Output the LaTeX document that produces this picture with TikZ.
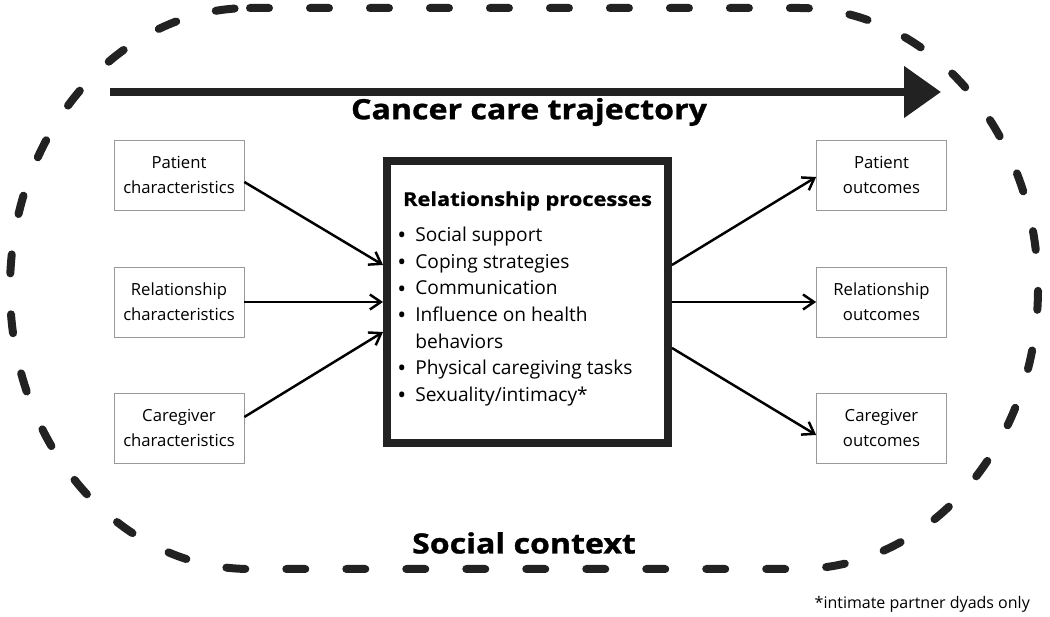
\documentclass[tikz,border=0pt]{standalone}
\usepackage{fontspec}
\setmainfont{Open Sans}
\newfontfamily\heavyfont[FakeStretch=1.15, FakeBold=1]{Open Sans}
\usetikzlibrary{arrows.meta,positioning,calc}
\newcommand{\boxfont}{\fontsize{9.5}{14.2}\selectfont}
\newcommand{\headfont}{\heavyfont\fontsize{15.9}{18}\bfseries\selectfont}
\newcommand{\proctitlefont}{\heavyfont\fontsize{10.8}{14}\bfseries\selectfont}
\newcommand{\listfont}{\fontsize{10.9}{15.1}\selectfont}
\newcommand{\notefont}{\fontsize{9.1}{11}\selectfont}
\newcommand{\itm}{\makebox[0.36cm][l]{\raisebox{-0.2ex}{\fontsize{13.5}{13}\selectfont\textbullet}}}
\definecolor{ink}{HTML}{222222}

\begin{document}
\begin{tikzpicture}[x=0.02cm, y=0.02cm,
    factor/.style={draw=gray!80, line width=0.4pt, minimum width=2.6cm, minimum height=1.4cm, align=center, font=\boxfont, inner sep=0pt},
    link/.style={draw, line width=1.4pt, -{Straight Barb[length=0.22cm, width=0.3cm]}}]
        \useasboundingbox (0,0) rectangle (1050,617);
        %social context loop
        \draw[ink, line width=0.16cm, line cap=round, dash pattern=on 0.38cm off 0.82cm]
            (250,609) -- (798,609) arc[start angle=90, end angle=-90, x radius=240, y radius=280.5]
            -- (250,48) arc[start angle=270, end angle=90, x radius=240, y radius=280.5] -- cycle;
        %trajectory
        \coordinate (trajstart) at (110,525);
        \coordinate (trajend) at (941,525);
        \draw[ink, line width=0.16cm, -{Triangle[length=0.74cm, width=1cm]}] (trajstart) -- (trajend);
        \node[font=\headfont] (traj) at (529,505) {Cancer care trajectory};
        \node[font=\headfont] (ctx) at (524,74) {Social context};
        %nodes
        \node[factor] (pc) at (179,442) {Patient\\characteristics};
        \node[factor] (rc) at (179,315) {Relationship\\characteristics};
        \node[factor] (cc) at (179,189) {Caregiver\\characteristics};
        \node[factor] (po) at (881.5,442) {Patient\\outcomes};
        \node[factor] (ro) at (881.5,315) {Relationship\\outcomes};
        \node[factor] (co) at (881.5,189) {Caregiver\\outcomes};
        \node[draw=ink, line width=0.16cm, minimum width=5.62cm, minimum height=5.64cm] (proc) at (527.5,315) {};
        \node[font=\proctitlefont] (proctitle) at (527.5,416) {Relationship processes};
        \node[font=\listfont, align=left, anchor=north west, inner sep=0pt] (proclist) at (397,390)
            {\itm Social support\\ \itm Coping strategies\\ \itm Communication\\ \itm Influence on health\\
             \makebox[0.36cm]{}behaviors\\ \itm Physical caregiving tasks\\ \itm Sexuality/intimacy*};
        \node[font=\notefont, anchor=east] (note) at (1036,13) {*intimate partner dyads only};
        %edges
        \draw[link] ($(pc.east)+(0,-7)$) -- ($(proc.west)+(0,37)$);
        \draw[link] (rc.east) -- (proc.west);
        \draw[link] ($(cc.east)+(0,11)$) -- ($(proc.west)+(0,-30)$);
        \draw[link] ($(proc.east)+(0,37)$) -- ($(po.west)+(0,-2)$);
        \draw[link] (proc.east) -- (ro.west);
        \draw[link] ($(proc.east)+(0,-46)$) -- ($(co.west)+(0,-7)$);
\end{tikzpicture}
\end{document}
